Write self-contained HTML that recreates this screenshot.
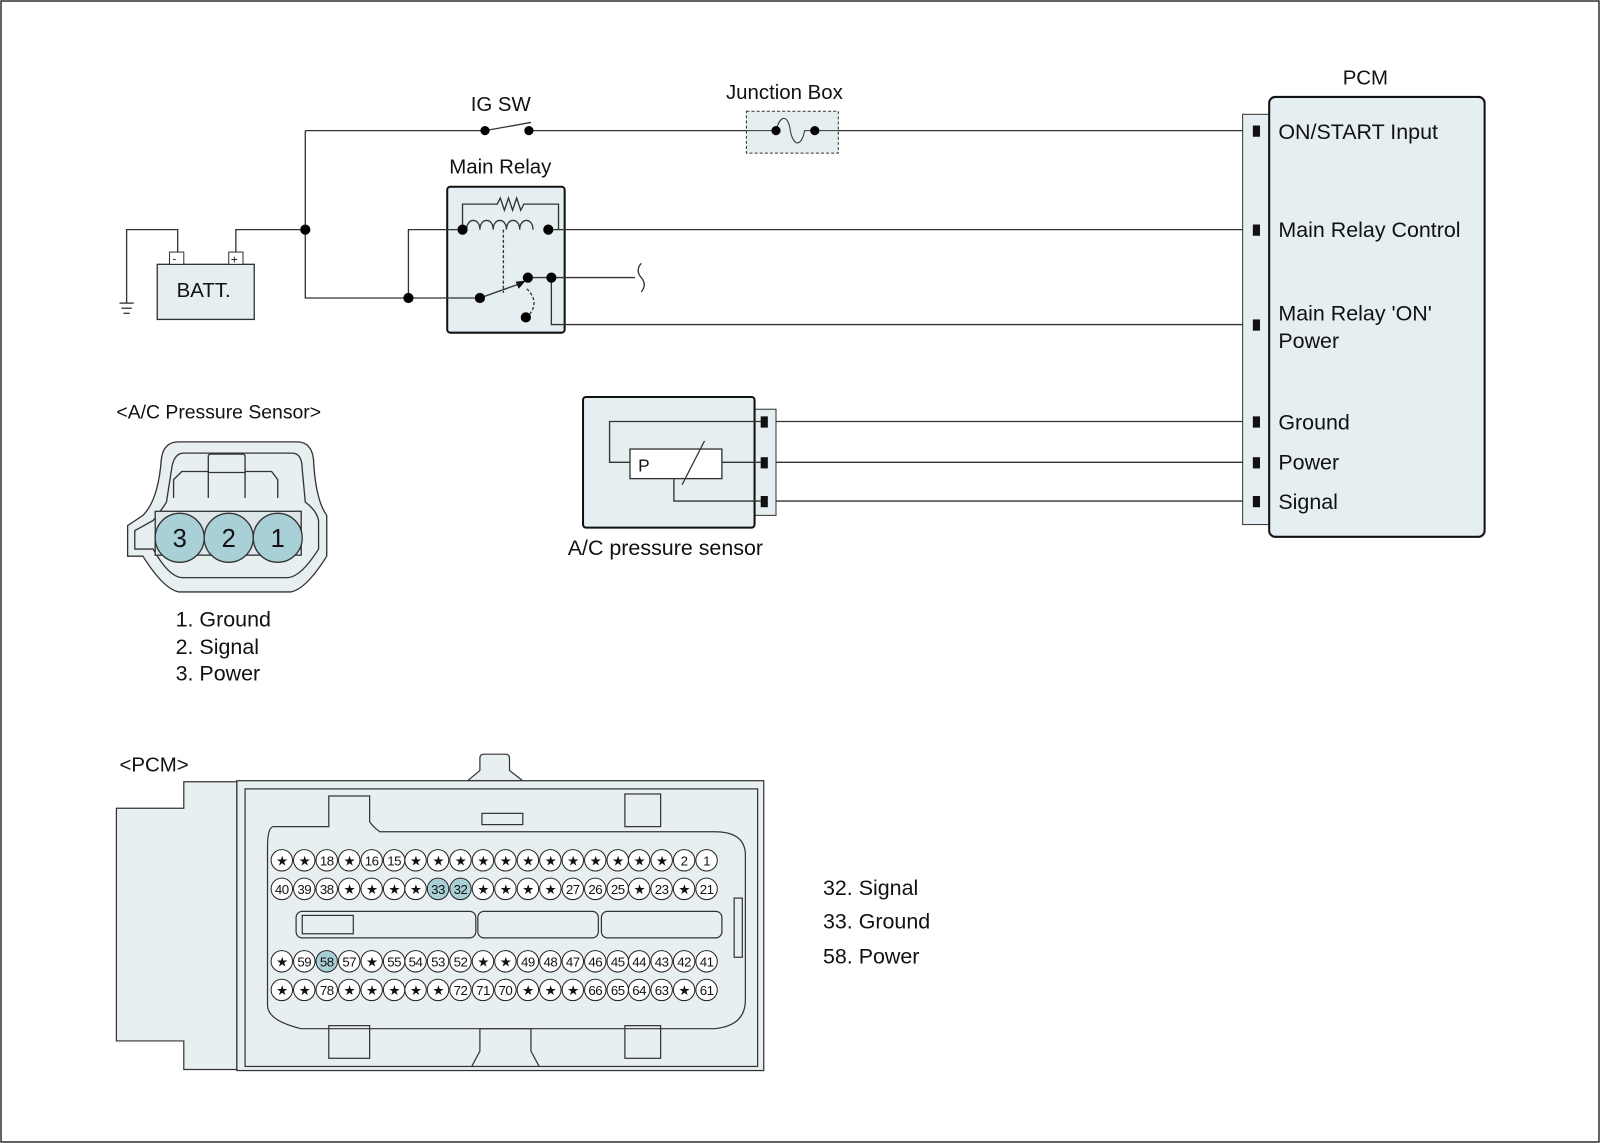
<!DOCTYPE html>
<html><head><meta charset="utf-8"><style>
html,body{margin:0;padding:0;background:#fff}
svg{display:block}
text{font-family:"Liberation Sans",Arial,sans-serif;fill:#111}
.p circle{fill:#fff;stroke:#222;stroke-width:1}
.p text{font-size:13px;text-anchor:middle;letter-spacing:-0.5px}
.h circle{fill:#a9cfd7}
</style></head><body>
<svg width="1600" height="1143" viewBox="0 0 1567 1120" preserveAspectRatio="none" xmlns="http://www.w3.org/2000/svg">
<rect x="1" y="1" width="1565" height="1118" fill="#fff" stroke="#333" stroke-width="1.5"/>
<!-- Main relay box first -->
<rect x="438" y="183" width="115" height="143" rx="3" fill="#e5eef0" stroke="#111" stroke-width="2"/>
<g fill="none" stroke="#333" stroke-width="1.3">
<polyline points="231,247 231,225 299,225"/>
<polyline points="299,128 299,292 470,292"/>
<line x1="299" y1="128" x2="475" y2="128"/>
<line x1="475" y1="128" x2="520" y2="120"/>
<line x1="518" y1="128" x2="1217" y2="128"/>
<polyline points="400,292 400,225 452,225"/>
<line x1="537" y1="225" x2="1217" y2="225"/>
<line x1="517" y1="272" x2="622" y2="272"/>
<polyline points="540,272 540,318 1217,318"/>
<polyline points="174,247 174,225 124,225 124,297"/>
<line x1="117" y1="297" x2="131" y2="297"/><line x1="119" y1="302" x2="129" y2="302"/><line x1="121" y1="307" x2="127" y2="307"/>
<path d="M628,258 q-6,7 0,14 q6,7 0,14"/>
<line x1="760" y1="413" x2="1217" y2="413"/>
<line x1="760" y1="453" x2="1217" y2="453"/>
<line x1="760" y1="491" x2="1217" y2="491"/>
</g>
<!-- battery -->
<rect x="154" y="259" width="95" height="54" fill="#e5eef0" stroke="#333" stroke-width="1.3"/>
<rect x="166" y="247" width="14" height="12" fill="#fff" stroke="#333"/><text x="169" y="257" font-size="11">-</text>
<rect x="224" y="247" width="14" height="12" fill="#fff" stroke="#333"/><text x="226" y="258" font-size="12">+</text>
<text x="173" y="291" font-size="20">BATT.</text>
<!-- IG SW -->
<text x="461" y="109" font-size="20">IG SW</text>
<circle cx="475" cy="128" r="4.5"/><circle cx="518" cy="128" r="4.5"/>
<circle cx="299" cy="225" r="5"/><circle cx="400" cy="292" r="5"/>
<!-- Junction box -->
<text x="711" y="97" font-size="20">Junction Box</text>
<rect x="731" y="109" width="90" height="41" fill="#e5eef0" stroke="#333" stroke-dasharray="3,2"/>
<line x1="731" y1="128" x2="760" y2="128" stroke="#333"/>
<line x1="798" y1="128" x2="821" y2="128" stroke="#333"/>
<path d="M760,128 c4,-16 12,-16 14,0 c3,16 11,16 14,0 l10,0" fill="none" stroke="#333"/>
<circle cx="760" cy="128" r="4.5"/><circle cx="798" cy="128" r="4.5"/>
<!-- Main relay internals -->
<text x="440" y="170" font-size="20">Main Relay</text>
<g fill="none" stroke="#333" stroke-width="1.3">
<polyline points="453,225 453,200 487,200 490,194 494,206 498,194 502,206 506,194 510,206 513,200 547,200 547,225"/>
<path d="M457,225 c0,-12 13,-12 13,0 c0,-12 13,-12 13,0 c0,-12 13,-12 13,0 c0,-12 13,-12 13,0 c0,-12 13,-12 13,0"/>
<line x1="493" y1="225" x2="493" y2="287" stroke-dasharray="3,2"/>
<line x1="470" y1="292" x2="512" y2="277"/>
<path d="M516,283 q14,14 0,28" stroke-dasharray="3,2"/>
</g>
<polygon points="515,275 505,276 508,283" fill="#111"/>
<circle cx="453" cy="225" r="5"/><circle cx="537" cy="225" r="5"/>
<circle cx="470" cy="292" r="5"/><circle cx="517" cy="272" r="5"/><circle cx="540" cy="272" r="5"/><circle cx="515" cy="311" r="5"/>
<!-- PCM block -->
<text x="1315" y="83" font-size="20">PCM</text>
<rect x="1217" y="112" width="30" height="402" fill="#e5eef0" stroke="#333"/>
<rect x="1243" y="95" width="211" height="431" rx="6" fill="#e5eef0" stroke="#111" stroke-width="2"/>
<g fill="#111">
<rect x="1227" y="123" width="7" height="11"/><rect x="1227" y="220" width="7" height="11"/><rect x="1227" y="313" width="7" height="11"/>
<rect x="1227" y="408" width="7" height="11"/><rect x="1227" y="448" width="7" height="11"/><rect x="1227" y="486" width="7" height="11"/>
</g>
<g font-size="21">
<text x="1252" y="136">ON/START Input</text>
<text x="1252" y="232">Main Relay Control</text>
<text x="1252" y="314">Main Relay 'ON'</text>
<text x="1252" y="341">Power</text>
<text x="1252" y="421">Ground</text>
<text x="1252" y="460">Power</text>
<text x="1252" y="499">Signal</text>
</g>
<!-- A/C sensor -->
<rect x="739" y="401" width="21" height="104" fill="#e5eef0" stroke="#333"/>
<rect x="571" y="389" width="168" height="128" rx="3" fill="#e5eef0" stroke="#111" stroke-width="2"/>
<g fill="#111"><rect x="745" y="408" width="7" height="11"/><rect x="745" y="448" width="7" height="11"/><rect x="745" y="486" width="7" height="11"/></g>
<g fill="none" stroke="#333" stroke-width="1.3">
<polyline points="745,413 597,413 597,453 617,453"/>
<rect x="617" y="440" width="90" height="29" fill="#fff"/>
<line x1="707" y1="453" x2="745" y2="453"/>
<polyline points="660,469 660,491 745,491"/>
<line x1="668" y1="475" x2="690" y2="432"/>
</g>
<text x="625" y="462" font-size="17">P</text>
<text x="556" y="544" font-size="21">A/C pressure sensor</text>
<!-- A/C connector -->
<text x="114" y="410" font-size="19">&lt;A/C Pressure Sensor&gt;</text>
<g stroke="#333" stroke-width="1.3" fill="#e8eff1">
<path d="M175,433 L291,433 Q305,433 307,450 Q309,490 320,505 L320,545 Q300,577 285,580 L175,580 Q160,577 140,545 L125,545 L125,515 L140,505 Q155,490 158,450 Q160,433 175,433 Z"/>
<path d="M180,444 L286,444 Q296,444 296,460 L299,492 Q310,500 312,510 L312,538 Q295,565 282,566 L178,566 Q165,565 150,538 L132,538 L132,520 L150,510 Q158,500 163,492 L168,460 Q170,444 180,444 Z" fill="none"/>
<path d="M204,463 L204,447 Q204,445 207,445 L237,445 Q240,445 240,447 L240,463 Z" fill="none"/>
<path d="M170,488 L170,470 L178,462 L204,462 L204,488 M240,488 L240,462 L266,462 L272,470 L272,488" fill="none"/>
<rect x="152" y="501" width="143" height="43" fill="#dde6e8"/>
<circle cx="176" cy="527" r="24" fill="#a9cfd7"/>
<circle cx="224" cy="527" r="24" fill="#a9cfd7"/>
<circle cx="272" cy="527" r="24" fill="#a9cfd7"/>
</g>
<g font-size="25" text-anchor="middle"><text x="176" y="536">3</text><text x="224" y="536">2</text><text x="272" y="536">1</text></g>
<g font-size="21"><text x="172" y="614">1. Ground</text><text x="172" y="641">2. Signal</text><text x="172" y="667">3. Power</text></g>
<!-- PCM connector -->
<text x="117" y="756" font-size="20">&lt;PCM&gt;</text>
<g stroke="#333" stroke-width="1.2" fill="#e8eff1">
<path d="M114,792 L180,792 L180,766 L232,766 L232,1048 L180,1048 L180,1020 L114,1020 Z"/>
<path d="M458,765 L470,755 L470,743 Q470,739 474,739 L495,739 Q499,739 499,743 L499,755 L512,765 Z"/>
<rect x="232" y="765" width="516" height="284"/>
<rect x="240" y="773" width="502" height="272" fill="none"/>
<path d="M268,810 Q262,810 262,830 L262,985 Q262,1000 295,1008 L700,1008 Q730,1005 730,980 L730,838 Q730,815 700,815 L372,815 Q365,810 362,805 L362,780 L322,780 L322,810 Z" fill="none"/>
<rect x="612" y="778" width="35" height="32" fill="none"/>
<rect x="612" y="1005" width="35" height="32" fill="none"/>
<rect x="322" y="1005" width="40" height="32" fill="none"/>
<rect x="472" y="797" width="40" height="11" fill="none"/>
<path d="M462,1045 L470,1030 L470,1008 L520,1008 L520,1030 L528,1045" fill="none"/>
<rect x="719" y="880" width="8" height="58" fill="none"/>
<rect x="290" y="893" width="176" height="26" rx="6" fill="none"/>
<rect x="468" y="893" width="118" height="26" rx="6" fill="none"/>
<rect x="589" y="893" width="118" height="26" rx="6" fill="none"/>
<rect x="296" y="897" width="50" height="18" fill="none"/>
</g>
<g class="p">
<g transform="translate(0,843)">
<g><circle cx="276" r="10.5"/><text x="276" y="5">★</text></g><g><circle cx="298" r="10.5"/><text x="298" y="5">★</text></g><g><circle cx="320" r="10.5"/><text x="320" y="5">18</text></g><g><circle cx="342" r="10.5"/><text x="342" y="5">★</text></g><g><circle cx="364" r="10.5"/><text x="364" y="5">16</text></g><g><circle cx="386" r="10.5"/><text x="386" y="5">15</text></g><g><circle cx="407" r="10.5"/><text x="407" y="5">★</text></g><g><circle cx="429" r="10.5"/><text x="429" y="5">★</text></g><g><circle cx="451" r="10.5"/><text x="451" y="5">★</text></g><g><circle cx="473" r="10.5"/><text x="473" y="5">★</text></g><g><circle cx="495" r="10.5"/><text x="495" y="5">★</text></g><g><circle cx="517" r="10.5"/><text x="517" y="5">★</text></g><g><circle cx="539" r="10.5"/><text x="539" y="5">★</text></g><g><circle cx="561" r="10.5"/><text x="561" y="5">★</text></g><g><circle cx="583" r="10.5"/><text x="583" y="5">★</text></g><g><circle cx="605" r="10.5"/><text x="605" y="5">★</text></g><g><circle cx="626" r="10.5"/><text x="626" y="5">★</text></g><g><circle cx="648" r="10.5"/><text x="648" y="5">★</text></g><g><circle cx="670" r="10.5"/><text x="670" y="5">2</text></g><g><circle cx="692" r="10.5"/><text x="692" y="5">1</text></g>
</g>
<g transform="translate(0,871)">
<g><circle cx="276" r="10.5"/><text x="276" y="5">40</text></g><g><circle cx="298" r="10.5"/><text x="298" y="5">39</text></g><g><circle cx="320" r="10.5"/><text x="320" y="5">38</text></g><g><circle cx="342" r="10.5"/><text x="342" y="5">★</text></g><g><circle cx="364" r="10.5"/><text x="364" y="5">★</text></g><g><circle cx="386" r="10.5"/><text x="386" y="5">★</text></g><g><circle cx="407" r="10.5"/><text x="407" y="5">★</text></g><g class="h"><circle cx="429" r="10.5"/><text x="429" y="5">33</text></g><g class="h"><circle cx="451" r="10.5"/><text x="451" y="5">32</text></g><g><circle cx="473" r="10.5"/><text x="473" y="5">★</text></g><g><circle cx="495" r="10.5"/><text x="495" y="5">★</text></g><g><circle cx="517" r="10.5"/><text x="517" y="5">★</text></g><g><circle cx="539" r="10.5"/><text x="539" y="5">★</text></g><g><circle cx="561" r="10.5"/><text x="561" y="5">27</text></g><g><circle cx="583" r="10.5"/><text x="583" y="5">26</text></g><g><circle cx="605" r="10.5"/><text x="605" y="5">25</text></g><g><circle cx="626" r="10.5"/><text x="626" y="5">★</text></g><g><circle cx="648" r="10.5"/><text x="648" y="5">23</text></g><g><circle cx="670" r="10.5"/><text x="670" y="5">★</text></g><g><circle cx="692" r="10.5"/><text x="692" y="5">21</text></g>
</g>
<g transform="translate(0,942)">
<g><circle cx="276" r="10.5"/><text x="276" y="5">★</text></g><g><circle cx="298" r="10.5"/><text x="298" y="5">59</text></g><g class="h"><circle cx="320" r="10.5"/><text x="320" y="5">58</text></g><g><circle cx="342" r="10.5"/><text x="342" y="5">57</text></g><g><circle cx="364" r="10.5"/><text x="364" y="5">★</text></g><g><circle cx="386" r="10.5"/><text x="386" y="5">55</text></g><g><circle cx="407" r="10.5"/><text x="407" y="5">54</text></g><g><circle cx="429" r="10.5"/><text x="429" y="5">53</text></g><g><circle cx="451" r="10.5"/><text x="451" y="5">52</text></g><g><circle cx="473" r="10.5"/><text x="473" y="5">★</text></g><g><circle cx="495" r="10.5"/><text x="495" y="5">★</text></g><g><circle cx="517" r="10.5"/><text x="517" y="5">49</text></g><g><circle cx="539" r="10.5"/><text x="539" y="5">48</text></g><g><circle cx="561" r="10.5"/><text x="561" y="5">47</text></g><g><circle cx="583" r="10.5"/><text x="583" y="5">46</text></g><g><circle cx="605" r="10.5"/><text x="605" y="5">45</text></g><g><circle cx="626" r="10.5"/><text x="626" y="5">44</text></g><g><circle cx="648" r="10.5"/><text x="648" y="5">43</text></g><g><circle cx="670" r="10.5"/><text x="670" y="5">42</text></g><g><circle cx="692" r="10.5"/><text x="692" y="5">41</text></g>
</g>
<g transform="translate(0,970)">
<g><circle cx="276" r="10.5"/><text x="276" y="5">★</text></g><g><circle cx="298" r="10.5"/><text x="298" y="5">★</text></g><g><circle cx="320" r="10.5"/><text x="320" y="5">78</text></g><g><circle cx="342" r="10.5"/><text x="342" y="5">★</text></g><g><circle cx="364" r="10.5"/><text x="364" y="5">★</text></g><g><circle cx="386" r="10.5"/><text x="386" y="5">★</text></g><g><circle cx="407" r="10.5"/><text x="407" y="5">★</text></g><g><circle cx="429" r="10.5"/><text x="429" y="5">★</text></g><g><circle cx="451" r="10.5"/><text x="451" y="5">72</text></g><g><circle cx="473" r="10.5"/><text x="473" y="5">71</text></g><g><circle cx="495" r="10.5"/><text x="495" y="5">70</text></g><g><circle cx="517" r="10.5"/><text x="517" y="5">★</text></g><g><circle cx="539" r="10.5"/><text x="539" y="5">★</text></g><g><circle cx="561" r="10.5"/><text x="561" y="5">★</text></g><g><circle cx="583" r="10.5"/><text x="583" y="5">66</text></g><g><circle cx="605" r="10.5"/><text x="605" y="5">65</text></g><g><circle cx="626" r="10.5"/><text x="626" y="5">64</text></g><g><circle cx="648" r="10.5"/><text x="648" y="5">63</text></g><g><circle cx="670" r="10.5"/><text x="670" y="5">★</text></g><g><circle cx="692" r="10.5"/><text x="692" y="5">61</text></g>
</g>
</g>
<g font-size="21"><text x="806" y="877">32. Signal</text><text x="806" y="910">33. Ground</text><text x="806" y="944">58. Power</text></g>
</svg>
</body></html>
